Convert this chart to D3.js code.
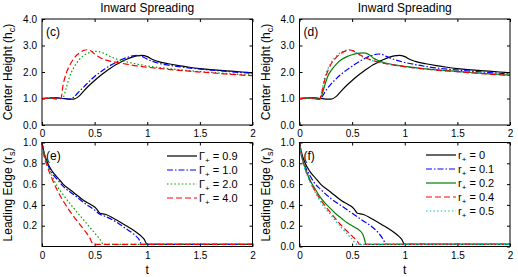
<!DOCTYPE html>
<html>
<head>
<meta charset="utf-8">
<script src="https://cdn.jsdelivr.net/npm/d3@7"></script>
<style>
  body { margin: 0; background: #fff; }
  svg { font-family: "Liberation Sans", Arial, sans-serif; }
</style>
</head>
<body>
<svg id="chart" width="518" height="277"></svg>
<script>
// x ticks (t)
var tTicks = [0, 0.5, 1, 1.5, 2];
var tTickLabels = ["0", "0.5", "1", "1.5", "2"];
var hcTicks = [0, 1, 2, 3, 4];
var rsTicksE = [0.2, 0.4, 0.6, 0.8, 1.0];
var rsTicksF = [0, 0.2, 0.4, 0.6, 0.8, 1.0];

var gammaLabels = ["0.9", "1.0", "2.0", "4.0"];
var rLabels = ["0", "0.1", "0.2", "0.4", "0.5"];

// center height, panel (c)
var hcG09 = [[0,1.0],[0.05,1.01],[0.1,1.02],[0.15,1.02],[0.2,1.0],[0.25,0.98],[0.3,0.98],[0.35,1.08],[0.4,1.3],[0.45,1.5],[0.5,1.68],[0.55,1.85],[0.6,2.0],[0.65,2.14],[0.7,2.27],[0.75,2.38],[0.8,2.47],[0.85,2.55],[0.9,2.61],[0.95,2.63],[1.0,2.58],[1.05,2.47],[1.1,2.4],[1.2,2.31],[1.3,2.24],[1.4,2.18],[1.5,2.13],[1.6,2.09],[1.7,2.06],[1.8,2.03],[1.9,2.0],[2.0,1.97]];
var hcG10 = [[0,1.0],[0.1,1.02],[0.2,1.0],[0.27,0.98],[0.3,1.05],[0.35,1.25],[0.4,1.45],[0.45,1.65],[0.5,1.83],[0.55,1.98],[0.6,2.12],[0.65,2.25],[0.7,2.36],[0.75,2.46],[0.8,2.54],[0.85,2.6],[0.9,2.63],[0.93,2.62],[0.97,2.55],[1.0,2.48],[1.05,2.4],[1.1,2.34],[1.2,2.26],[1.3,2.2],[1.5,2.11],[1.7,2.04],[2.0,1.95]];
var hcG20 = [[0,1.0],[0.1,1.02],[0.18,1.0],[0.2,1.03],[0.23,1.4],[0.26,1.8],[0.3,2.15],[0.35,2.45],[0.4,2.63],[0.45,2.73],[0.5,2.78],[0.55,2.76],[0.6,2.68],[0.65,2.58],[0.7,2.5],[0.8,2.39],[0.9,2.3],[1.0,2.23],[1.2,2.13],[1.4,2.05],[1.6,1.99],[1.8,1.93],[2.0,1.88]];
var hcG40 = [[0,1.0],[0.1,1.0],[0.15,0.97],[0.18,1.0],[0.2,1.5],[0.23,1.95],[0.27,2.3],[0.3,2.5],[0.35,2.7],[0.4,2.82],[0.43,2.84],[0.47,2.78],[0.5,2.68],[0.55,2.55],[0.6,2.46],[0.7,2.37],[0.8,2.3],[0.9,2.23],[1.0,2.18],[1.2,2.1],[1.4,2.03],[1.6,1.97],[1.8,1.91],[2.0,1.86]];

// center height, panel (d)
var hcR0 = hcG09;
var hcR01 = [[0,1.0],[0.1,1.02],[0.19,0.98],[0.22,1.1],[0.25,1.3],[0.3,1.55],[0.35,1.75],[0.4,1.93],[0.45,2.08],[0.5,2.22],[0.55,2.35],[0.6,2.47],[0.65,2.57],[0.7,2.64],[0.75,2.68],[0.78,2.67],[0.82,2.6],[0.9,2.47],[1.0,2.36],[1.1,2.28],[1.2,2.21],[1.4,2.11],[1.6,2.04],[1.8,1.98],[2.0,1.92]];
var hcR02 = [[0,1.0],[0.1,1.02],[0.19,0.97],[0.21,1.1],[0.24,1.5],[0.27,1.85],[0.3,2.05],[0.35,2.3],[0.4,2.47],[0.45,2.58],[0.5,2.65],[0.55,2.7],[0.6,2.72],[0.63,2.71],[0.67,2.63],[0.7,2.53],[0.75,2.43],[0.8,2.36],[0.9,2.27],[1.0,2.21],[1.2,2.12],[1.4,2.05],[1.6,1.99],[1.8,1.93],[2.0,1.88]];
var hcR04 = [[0,1.0],[0.1,1.02],[0.19,0.97],[0.21,1.2],[0.24,1.7],[0.27,2.05],[0.3,2.3],[0.35,2.55],[0.4,2.72],[0.45,2.81],[0.48,2.83],[0.52,2.78],[0.57,2.66],[0.62,2.55],[0.7,2.43],[0.8,2.33],[0.9,2.26],[1.0,2.2],[1.2,2.11],[1.4,2.04],[1.6,1.98],[1.8,1.92],[2.0,1.87]];
var hcR05 = [[0,1.0],[0.1,1.02],[0.19,0.97],[0.21,1.25],[0.24,1.8],[0.27,2.12],[0.3,2.35],[0.35,2.6],[0.4,2.75],[0.45,2.83],[0.48,2.84],[0.52,2.78],[0.57,2.64],[0.62,2.53],[0.7,2.42],[0.8,2.33],[0.9,2.26],[1.0,2.2],[1.2,2.11],[1.4,2.04],[1.6,1.98],[1.8,1.93],[2.0,1.88]];

// leading edge, panel (e)
var rsG09 = [[0,1.0],[0.02,0.9],[0.05,0.81],[0.1,0.72],[0.15,0.66],[0.2,0.6],[0.3,0.52],[0.4,0.44],[0.47,0.4],[0.52,0.36],[0.55,0.32],[0.6,0.31],[0.7,0.26],[0.8,0.2],[0.88,0.15],[0.93,0.11],[0.97,0.07],[1.0,0.02],[2.0,0.02]];
var rsG10 = [[0,1.0],[0.02,0.89],[0.05,0.8],[0.1,0.7],[0.15,0.64],[0.2,0.58],[0.3,0.5],[0.4,0.42],[0.5,0.35],[0.55,0.31],[0.6,0.29],[0.7,0.24],[0.8,0.17],[0.87,0.12],[0.92,0.07],[0.95,0.02],[2.0,0.02]];
var rsG20 = [[0,1.0],[0.02,0.9],[0.05,0.8],[0.1,0.67],[0.15,0.57],[0.2,0.5],[0.3,0.37],[0.4,0.25],[0.5,0.13],[0.55,0.07],[0.585,0.02],[2.0,0.02]];
var rsG40 = [[0,1.0],[0.02,0.87],[0.05,0.77],[0.1,0.64],[0.15,0.53],[0.2,0.44],[0.3,0.29],[0.4,0.16],[0.45,0.09],[0.49,0.02],[2.0,0.02]];

// leading edge, panel (f)
var rsR0 = rsG09;
var rsR01 = [[0,1.0],[0.02,0.88],[0.05,0.78],[0.1,0.68],[0.15,0.6],[0.2,0.55],[0.3,0.46],[0.4,0.39],[0.5,0.32],[0.6,0.25],[0.7,0.18],[0.75,0.13],[0.8,0.06],[0.82,0.02],[2.0,0.02]];
var rsR02 = [[0,1.0],[0.02,0.87],[0.05,0.77],[0.1,0.64],[0.15,0.55],[0.2,0.47],[0.25,0.41],[0.3,0.36],[0.35,0.31],[0.4,0.27],[0.45,0.23],[0.5,0.2],[0.55,0.17],[0.6,0.12],[0.62,0.06],[0.63,0.02],[2.0,0.02]];
var rsR04 = [[0,1.0],[0.02,0.87],[0.05,0.76],[0.1,0.63],[0.15,0.53],[0.2,0.45],[0.3,0.32],[0.4,0.2],[0.5,0.1],[0.55,0.05],[0.57,0.02],[2.0,0.02]];
var rsR05 = [[0,1.0],[0.02,0.86],[0.05,0.75],[0.1,0.62],[0.15,0.52],[0.2,0.43],[0.3,0.3],[0.4,0.18],[0.5,0.07],[0.55,0.02],[2.0,0.02]];

var styles = {
  black: { color: "#000", dash: null },
  blue: { color: "#0000ff", dash: "6,2,1.5,2" },
  greenDot: { color: "#00a000", dash: "1.5,2.2" },
  greenSolid: { color: "#008000", dash: null },
  red: { color: "#ff0000", dash: "6,3" },
  cyan: { color: "#00bfbf", dash: "1.5,2.2" }
};

var svg = d3.select("#chart");

function drawPanel(p) {
  var x = d3.scaleLinear().domain([0, 2]).range([p.left, p.right]);
  var y = d3.scaleLinear().domain(p.yDomain).range([p.bottom, p.top]);
  var g = svg.append("g");
  var clipId = "clip" + p.tag;

  g.append("clipPath").attr("id", clipId)
    .append("rect")
    .attr("x", p.left).attr("y", p.top - 1)
    .attr("width", p.right - p.left).attr("height", p.bottom - p.top + 1);

  // bottom axis, inward ticks
  var xAxis = d3.axisBottom(x).tickValues(tTicks)
    .tickFormat(function(d, i) { return tTickLabels[i]; })
    .tickSizeInner(-3).tickSizeOuter(0).tickPadding(5);
  var gx = g.append("g").attr("transform", "translate(0," + p.bottom + ")").call(xAxis);

  var yAxis = d3.axisLeft(y).tickValues(p.yTicks)
    .tickFormat(d3.format(".1f"))
    .tickSizeInner(-3).tickSizeOuter(0).tickPadding(5);
  var gy = g.append("g").attr("transform", "translate(" + p.left + ",0)").call(yAxis);

  // mirrored ticks top/right
  g.append("g").attr("transform", "translate(0," + p.top + ")")
    .call(d3.axisTop(x).tickValues(tTicks).tickFormat("").tickSizeInner(-3).tickSizeOuter(0));
  g.append("g").attr("transform", "translate(" + p.right + ",0)")
    .call(d3.axisRight(y).tickValues(p.yTicks).tickFormat("").tickSizeInner(-3).tickSizeOuter(0));

  g.selectAll(".domain").remove();
  g.selectAll(".tick line").attr("stroke", "#000");
  g.selectAll(".tick text").attr("font-size", 10).attr("fill", "#000")
    .attr("font-family", "Liberation Sans, Arial, sans-serif");

  var line = d3.line()
    .x(function(d) { return x(d[0]); })
    .y(function(d) { return y(d[1]); })
    .curve(d3.curveMonotoneX);

  var lines = g.append("g").attr("clip-path", "url(#" + clipId + ")");
  p.series.forEach(function(s) {
    lines.append("path")
      .attr("d", line(s.data))
      .attr("fill", "none")
      .attr("stroke", s.style.color)
      .attr("stroke-width", 1.2)
      .attr("stroke-dasharray", s.style.dash);
  });

  g.append("rect")
    .attr("x", p.left).attr("y", p.top)
    .attr("width", p.right - p.left).attr("height", p.bottom - p.top)
    .attr("fill", "none").attr("stroke", "#000").attr("stroke-width", 1);

  g.append("text").attr("x", p.left + 4).attr("y", p.top + 17)
    .attr("font-size", 12).text(p.tag);

  // y label with subscript
  var cy = (p.top + p.bottom) / 2;
  var yl = g.append("text")
    .attr("transform", "translate(" + (p.left - 30) + "," + cy + ") rotate(-90)")
    .attr("text-anchor", "middle").attr("font-size", 12);
  yl.append("tspan").text(p.yLabel + " (" + p.yVar);
  yl.append("tspan").attr("font-size", 9).attr("dy", 3).text(p.ySub);
  yl.append("tspan").attr("dy", -3).text(")");

  if (p.title) {
    g.append("text").attr("x", (p.left + p.right) / 2).attr("y", p.top - 7)
      .attr("text-anchor", "middle").attr("font-size", 12).text(p.title);
  }
  if (p.xLabel) {
    g.append("text").attr("x", (p.left + p.right) / 2).attr("y", p.bottom + 27)
      .attr("text-anchor", "middle").attr("font-size", 12).text(p.xLabel);
  }

  if (p.legend) {
    p.series.forEach(function(s, i) {
      var ly = p.legend.y + i * 14;
      g.append("line")
        .attr("x1", p.legend.x).attr("x2", p.legend.x + 30)
        .attr("y1", ly).attr("y2", ly)
        .attr("stroke", s.style.color).attr("stroke-width", 1.2)
        .attr("stroke-dasharray", s.style.dash);
      var t = g.append("text").attr("x", p.legend.x + 32).attr("y", ly + 4)
        .attr("font-size", 11);
      t.append("tspan").text(p.legend.sym);
      t.append("tspan").attr("font-size", 8).attr("dy", 3).text("+");
      t.append("tspan").attr("dy", -3).text(" = " + p.legend.labels[i]);
    });
  }
}

var L = [42, 252.5], R = [299.5, 510];
var TOP = [19, 125], BOT = [142.5, 246.5];

drawPanel({ tag: "(c)", left: L[0], right: L[1], top: TOP[0], bottom: TOP[1],
  yDomain: [0, 4], yTicks: hcTicks, title: "Inward Spreading",
  yLabel: "Center Height", yVar: "h", ySub: "c",
  series: [
    { data: hcG09, style: styles.black },
    { data: hcG10, style: styles.blue },
    { data: hcG20, style: styles.greenDot },
    { data: hcG40, style: styles.red }
  ] });

drawPanel({ tag: "(d)", left: R[0], right: R[1], top: TOP[0], bottom: TOP[1],
  yDomain: [0, 4], yTicks: hcTicks, title: "Inward Spreading",
  yLabel: "Center Height", yVar: "h", ySub: "c",
  series: [
    { data: hcR0, style: styles.black },
    { data: hcR01, style: styles.blue },
    { data: hcR02, style: styles.greenSolid },
    { data: hcR05, style: styles.cyan },
    { data: hcR04, style: styles.red }
  ] });

drawPanel({ tag: "(e)", left: L[0], right: L[1], top: BOT[0], bottom: BOT[1],
  yDomain: [0, 1], yTicks: rsTicksE, xLabel: "t",
  yLabel: "Leading Edge", yVar: "r", ySub: "s",
  legend: { x: 167, y: 156, sym: "\u0393", labels: gammaLabels },
  series: [
    { data: rsG09, style: styles.black },
    { data: rsG10, style: styles.blue },
    { data: rsG20, style: styles.greenDot },
    { data: rsG40, style: styles.red }
  ] });

drawPanel({ tag: "(f)", left: R[0], right: R[1], top: BOT[0], bottom: BOT[1],
  yDomain: [0, 1], yTicks: rsTicksF, xLabel: "t",
  yLabel: "Leading Edge", yVar: "r", ySub: "s",
  legend: { x: 426, y: 155, sym: "r", labels: rLabels },
  series: [
    { data: rsR0, style: styles.black },
    { data: rsR01, style: styles.blue },
    { data: rsR02, style: styles.greenSolid },
    { data: rsR04, style: styles.red },
    { data: rsR05, style: styles.cyan }
  ] });
</script>
</body>
</html>
